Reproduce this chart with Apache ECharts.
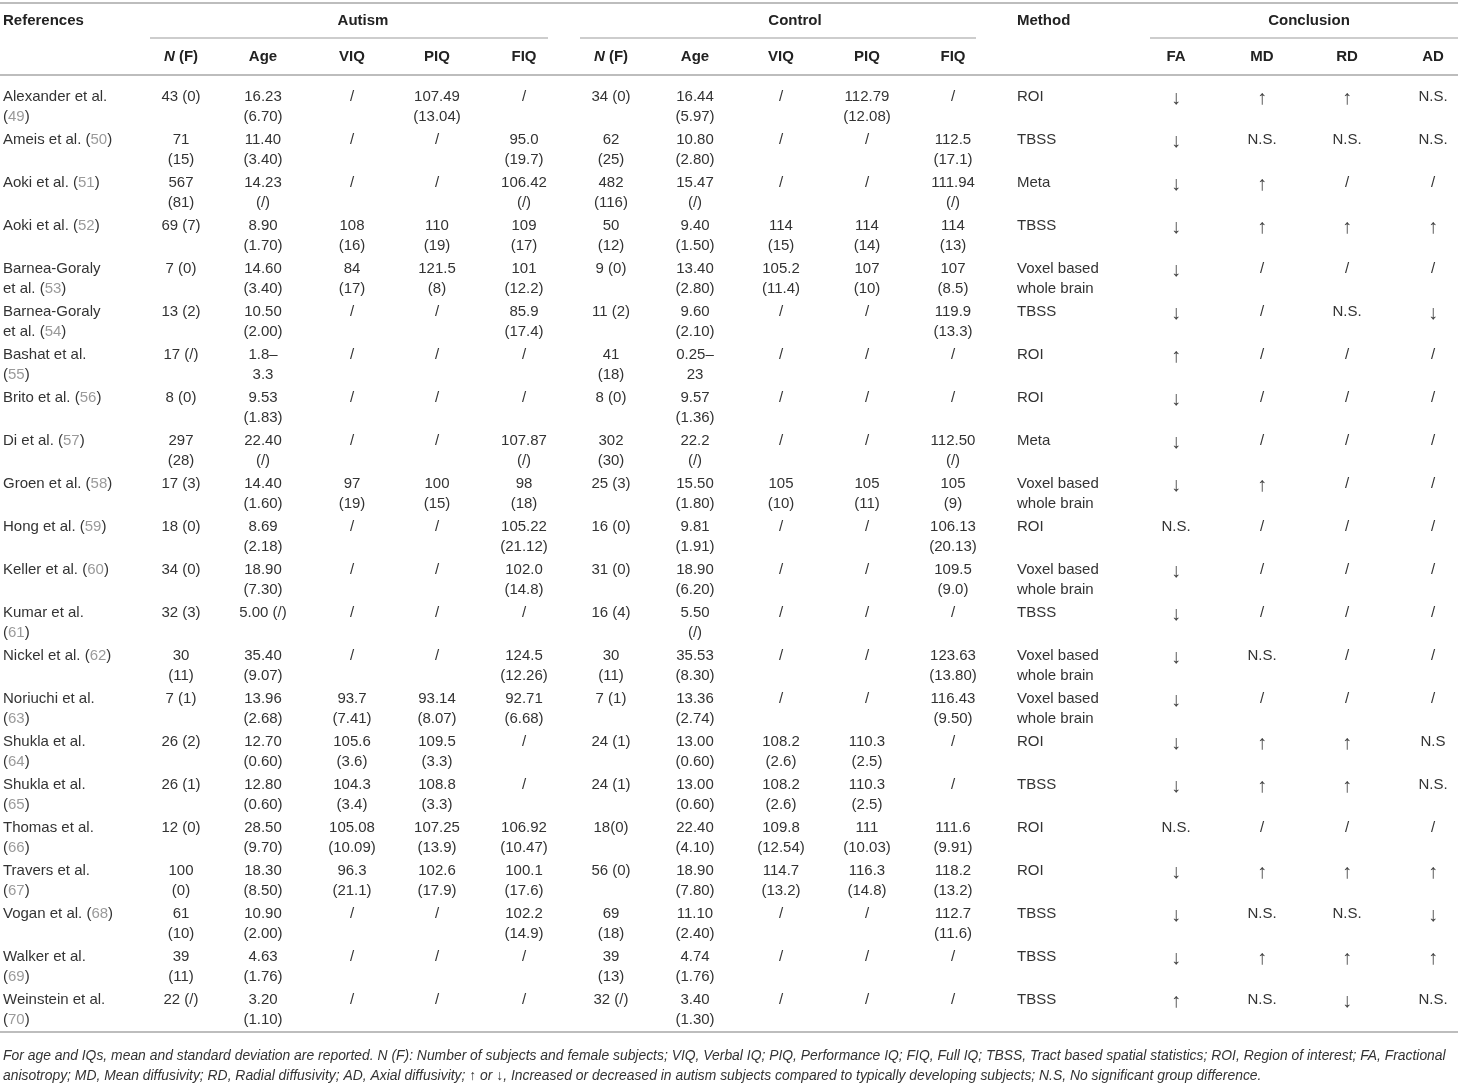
<!DOCTYPE html>
<html>
<head>
<meta charset="utf-8">
<script src="https://cdn.jsdelivr.net/npm/echarts@6/dist/echarts.min.js"></script>
<style>
html, body { margin: 0; padding: 0; background: #fff; }
#main { width: 1458px; height: 1086px; }
</style>
</head>
<body>
<div id="main"></div>
<script>
// studies (name text + reference number)
var refNames = ['Alexander et al.\n', 'Ameis et al. ', 'Aoki et al. ', 'Aoki et al. ', 'Barnea-Goraly\net al. ',
  'Barnea-Goraly\net al. ', 'Bashat et al.\n', 'Brito et al. ', 'Di et al. ', 'Groen et al. ', 'Hong et al. ',
  'Keller et al. ', 'Kumar et al.\n', 'Nickel et al. ', 'Noriuchi et al.\n', 'Shukla et al.\n', 'Shukla et al.\n',
  'Thomas et al.\n', 'Travers et al.\n', 'Vogan et al. ', 'Walker et al.\n', 'Weinstein et al.\n'];
var refNums = [49, 50, 51, 52, 53, 54, 55, 56, 57, 58, 59, 60, 61, 62, 63, 64, 65, 66, 67, 68, 69, 70];

// autism group
var autN = ['43 (0)', '71\n(15)', '567\n(81)', '69 (7)', '7 (0)', '13 (2)', '17 (/)', '8 (0)', '297\n(28)', '17 (3)', '18 (0)',
  '34 (0)', '32 (3)', '30\n(11)', '7 (1)', '26 (2)', '26 (1)', '12 (0)', '100\n(0)', '61\n(10)', '39\n(11)', '22 (/)'];
var autAge = ['16.23\n(6.70)', '11.40\n(3.40)', '14.23\n(/)', '8.90\n(1.70)', '14.60\n(3.40)', '10.50\n(2.00)', '1.8–\n3.3',
  '9.53\n(1.83)', '22.40\n(/)', '14.40\n(1.60)', '8.69\n(2.18)', '18.90\n(7.30)', '5.00 (/)', '35.40\n(9.07)', '13.96\n(2.68)',
  '12.70\n(0.60)', '12.80\n(0.60)', '28.50\n(9.70)', '18.30\n(8.50)', '10.90\n(2.00)', '4.63\n(1.76)', '3.20\n(1.10)'];
var autVIQ = ['/', '/', '/', '108\n(16)', '84\n(17)', '/', '/', '/', '/', '97\n(19)', '/', '/', '/', '/', '93.7\n(7.41)',
  '105.6\n(3.6)', '104.3\n(3.4)', '105.08\n(10.09)', '96.3\n(21.1)', '/', '/', '/'];
var autPIQ = ['107.49\n(13.04)', '/', '/', '110\n(19)', '121.5\n(8)', '/', '/', '/', '/', '100\n(15)', '/', '/', '/', '/',
  '93.14\n(8.07)', '109.5\n(3.3)', '108.8\n(3.3)', '107.25\n(13.9)', '102.6\n(17.9)', '/', '/', '/'];
var autFIQ = ['/', '95.0\n(19.7)', '106.42\n(/)', '109\n(17)', '101\n(12.2)', '85.9\n(17.4)', '/', '/', '107.87\n(/)', '98\n(18)',
  '105.22\n(21.12)', '102.0\n(14.8)', '/', '124.5\n(12.26)', '92.71\n(6.68)', '/', '/', '106.92\n(10.47)', '100.1\n(17.6)',
  '102.2\n(14.9)', '/', '/'];

// control group
var conN = ['34 (0)', '62\n(25)', '482\n(116)', '50\n(12)', '9 (0)', '11 (2)', '41\n(18)', '8 (0)', '302\n(30)', '25 (3)', '16 (0)',
  '31 (0)', '16 (4)', '30\n(11)', '7 (1)', '24 (1)', '24 (1)', '18(0)', '56 (0)', '69\n(18)', '39\n(13)', '32 (/)'];
var conAge = ['16.44\n(5.97)', '10.80\n(2.80)', '15.47\n(/)', '9.40\n(1.50)', '13.40\n(2.80)', '9.60\n(2.10)', '0.25–\n23',
  '9.57\n(1.36)', '22.2\n(/)', '15.50\n(1.80)', '9.81\n(1.91)', '18.90\n(6.20)', '5.50\n(/)', '35.53\n(8.30)', '13.36\n(2.74)',
  '13.00\n(0.60)', '13.00\n(0.60)', '22.40\n(4.10)', '18.90\n(7.80)', '11.10\n(2.40)', '4.74\n(1.76)', '3.40\n(1.30)'];
var conVIQ = ['/', '/', '/', '114\n(15)', '105.2\n(11.4)', '/', '/', '/', '/', '105\n(10)', '/', '/', '/', '/', '/',
  '108.2\n(2.6)', '108.2\n(2.6)', '109.8\n(12.54)', '114.7\n(13.2)', '/', '/', '/'];
var conPIQ = ['112.79\n(12.08)', '/', '/', '114\n(14)', '107\n(10)', '/', '/', '/', '/', '105\n(11)', '/', '/', '/', '/', '/',
  '110.3\n(2.5)', '110.3\n(2.5)', '111\n(10.03)', '116.3\n(14.8)', '/', '/', '/'];
var conFIQ = ['/', '112.5\n(17.1)', '111.94\n(/)', '114\n(13)', '107\n(8.5)', '119.9\n(13.3)', '/', '/', '112.50\n(/)', '105\n(9)',
  '106.13\n(20.13)', '109.5\n(9.0)', '/', '123.63\n(13.80)', '116.43\n(9.50)', '/', '/', '111.6\n(9.91)', '118.2\n(13.2)',
  '112.7\n(11.6)', '/', '/'];

// method and conclusions
var methods = ['ROI', 'TBSS', 'Meta', 'TBSS', 'Voxel based\nwhole brain', 'TBSS', 'ROI', 'ROI', 'Meta', 'Voxel based\nwhole brain',
  'ROI', 'Voxel based\nwhole brain', 'TBSS', 'Voxel based\nwhole brain', 'Voxel based\nwhole brain', 'ROI', 'TBSS', 'ROI', 'ROI',
  'TBSS', 'TBSS', 'TBSS'];
var fa = ['↓', '↓', '↓', '↓', '↓', '↓', '↑', '↓', '↓', '↓', 'N.S.', '↓', '↓', '↓', '↓', '↓', '↓', 'N.S.', '↓', '↓', '↓', '↑'];
var md = ['↑', 'N.S.', '↑', '↑', '/', '/', '/', '/', '/', '↑', '/', '/', '/', 'N.S.', '/', '↑', '↑', '/', '↑', 'N.S.', '↑', 'N.S.'];
var rd = ['↑', 'N.S.', '/', '↑', '/', 'N.S.', '/', '/', '/', '/', '/', '/', '/', '/', '/', '↑', '↑', '/', '↑', 'N.S.', '↑', '↓'];
var ad = ['N.S.', 'N.S.', '/', '↑', '/', '↓', '/', '/', '/', '/', '/', '/', '/', '/', '/', 'N.S', 'N.S.', '/', '↑', '↓', '↑', 'N.S.'];

var subHeaders = ['{i|N} (F)', 'Age', 'VIQ', 'PIQ', 'FIQ', '{i|N} (F)', 'Age', 'VIQ', 'PIQ', 'FIQ', '', 'FA', 'MD', 'RD', 'AD'];
var footnote = 'For age and IQs, mean and standard deviation are reported. N (F): Number of subjects and female subjects; VIQ, Verbal IQ; PIQ, Performance IQ; FIQ, Full IQ; TBSS, Tract based spatial statistics; ROI, Region of interest; FA, Fractional\n' +
  'anisotropy; MD, Mean diffusivity; RD, Radial diffusivity; AD, Axial diffusivity; ↑ or ↓, Increased or decreased in autism subjects compared to typically developing subjects; N.S, No significant group difference.';

// layout: column anchor x and alignment (column 0 = references)
var colX = [3, 181, 263, 352, 437, 524, 611, 695, 781, 867, 953, 1017, 1176, 1262, 1347, 1433];
var colAlign = ['left', 'center', 'center', 'center', 'center', 'center', 'center', 'center', 'center', 'center', 'center',
  'left', 'center', 'center', 'center', 'center'];

var columns = [null, autN, autAge, autVIQ, autPIQ, autFIQ, conN, conAge, conVIQ, conPIQ, conFIQ, methods, fa, md, rd, ad];
var FONT = '"Liberation Sans", Arial, sans-serif';
var TXT = '#333333';

var data = [];
var texts = [];
for (var r = 0; r < refNums.length; r++) {
  for (var c = 0; c < columns.length; c++) {
    data.push([c, r]);
    if (c === 0) {
      texts.push(refNames[r] + '({r|' + refNums[r] + '})');
    } else {
      texts.push(columns[c][r].replace(/([↑↓])/g, '{a|$1}'));
    }
  }
}

var myChart = echarts.init(document.getElementById('main'));

// row 0 sits 97px from the top, rows are 43px apart
var ROW0 = 97, ROWH = 43;

var graphics = [];
function hline(x1, x2, y, w) {
  graphics.push({
    type: 'line', shape: { x1: x1, y1: y, x2: x2, y2: y },
    style: { stroke: '#bdbdbd', lineWidth: w }
  });
}
hline(0, 1458, 3, 2);
hline(150, 548, 38, 1.5);
hline(580, 976, 38, 1.5);
hline(1150, 1458, 38, 1.5);
hline(0, 1458, 75, 2);
hline(0, 1458, 1032, 2);

function htext(x, y, txt, align) {
  graphics.push({
    type: 'text', x: x, y: y,
    style: {
      text: txt, textAlign: align, textVerticalAlign: 'middle',
      fontFamily: FONT, fontSize: 15, fontWeight: 'bold', fill: '#222',
      rich: { i: { fontStyle: 'italic', fontWeight: 'bold', fontSize: 15, fontFamily: FONT, fill: '#222' } }
    }
  });
}
htext(3, 21, 'References', 'left');
htext(363, 21, 'Autism', 'center');
htext(795, 21, 'Control', 'center');
htext(1017, 21, 'Method', 'left');
htext(1309, 21, 'Conclusion', 'center');
for (var h = 0; h < subHeaders.length; h++) {
  if (subHeaders[h]) htext(colX[h + 1], 57, subHeaders[h], 'center');
}
graphics.push({
  type: 'text', x: 3, y: 1046,
  style: {
    text: footnote, textAlign: 'left', textVerticalAlign: 'top', lineHeight: 20,
    fontFamily: FONT, fontSize: 13.9, fontStyle: 'italic', fill: '#333'
  }
});

var option = {
  animation: false,
  backgroundColor: '#fff',
  grid: { left: 0, right: 0, top: 0, bottom: 0 },
  xAxis: { type: 'value', min: 0, max: 1458, show: false },
  yAxis: { type: 'value', inverse: true, min: -ROW0 / ROWH, max: (1086 - ROW0) / ROWH, show: false },
  graphic: graphics,
  series: [{
    type: 'custom',
    data: data,
    renderItem: function (params, api) {
      var c = api.value(0);
      var p = api.coord([colX[c], api.value(1)]);
      return {
        type: 'text',
        x: p[0], y: p[1] - 10,
        style: {
          text: texts[params.dataIndex],
          textAlign: colAlign[c], textVerticalAlign: 'top',
          fontFamily: FONT, fontSize: 15, lineHeight: 20, fill: TXT,
          rich: {
            r: { fill: '#9a9a9a', fontFamily: FONT, fontSize: 15, lineHeight: 20 },
            a: { fill: '#444', fontFamily: FONT, fontSize: 20, lineHeight: 22 }
          }
        }
      };
    }
  }]
};
myChart.setOption(option);
</script>
</body>
</html>
